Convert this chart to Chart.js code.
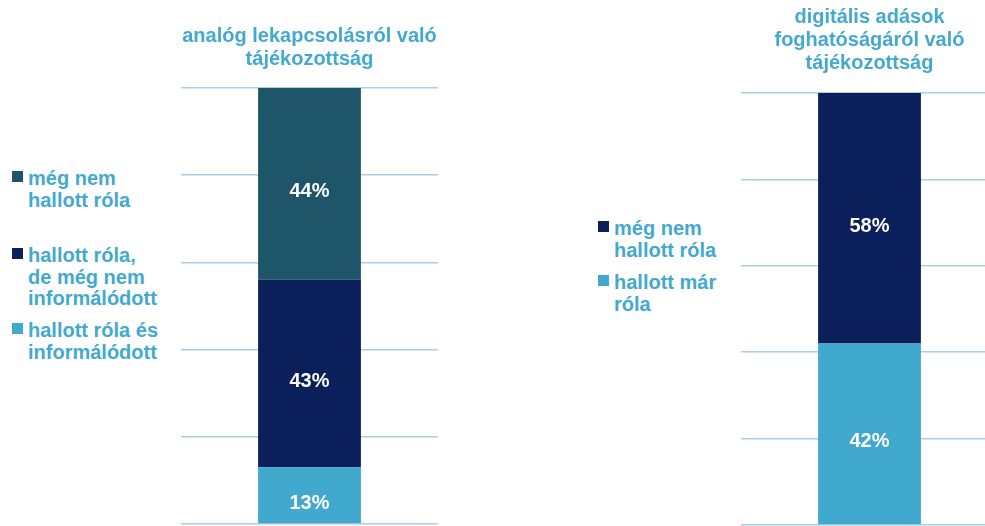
<!DOCTYPE html>
<html>
<head>
<meta charset="utf-8">
<script src="https://cdn.jsdelivr.net/npm/chart.js@4/dist/chart.umd.min.js"></script>
<style>
  html, body { margin: 0; padding: 0; background: #fff; width: 985px; height: 526px; overflow: hidden; }
  body { position: relative; font-family: "Liberation Sans", Arial, sans-serif; }
  .box { position: absolute; top: 0; height: 526px; width: 257px; }
  .leg { position: absolute; color: #44A9CF; font-weight: bold; font-size: 20px; line-height: 21.5px; white-space: nowrap; }
  .leg i { position: absolute; left: -16px; top: 3px; width: 11px; height: 11px; }
</style>
</head>
<body>
<div class="box" style="left:181px"><canvas id="grafAnalog"></canvas></div>
<div class="box" style="left:741px"><canvas id="grafDigital"></canvas></div>
<div id="legendas"></div>
<script>
// bal oldali grafikon (alulról felfelé)
var analogCim = ["analóg lekapcsolásról való", "tájékozottság"];
var analogCimkek = ["hallott róla és\ninformálódott", "hallott róla,\nde még nem\ninformálódott", "még nem\nhallott róla"];
var analogErtekek = [13, 43, 44];
var analogSzinek = ["#41A8CE", "#0B1F5A", "#1E5569"];

// jobb oldali grafikon (alulról felfelé)
var digitalCim = ["digitális adások", "foghatóságáról való", "tájékozottság"];
var digitalCimkek = ["hallott már\nróla", "még nem\nhallott róla"];
var digitalErtekek = [42, 58];
var digitalSzinek = ["#41A8CE", "#0B1F5A"];

var tengely = [0, 20, 40, 60, 80, 100];

// a legendák helye (bal, felső)
var analogLegHely = [[28, 320], [28, 245], [28, 168]];
var digitalLegHely = [[614, 272], [614, 218]];

var szazalekok = {
    id: "szazalekok",
    afterDatasetsDraw: function (chart) {
        var ctx = chart.ctx;
        ctx.save();
        ctx.fillStyle = "#fff";
        ctx.font = "bold 20px 'Liberation Sans', Arial, sans-serif";
        ctx.textAlign = "center";
        ctx.textBaseline = "middle";
        chart.data.datasets.forEach(function (ds, i) {
            chart.getDatasetMeta(i).data.forEach(function (el, j) {
                var p = el.getCenterPoint();
                ctx.fillText(ds.data[j] + "%", p.x, p.y + 8);
            });
        });
        ctx.restore();
    }
};

function pintar(id, cim, cimkek, ertekek, szinek, pad) {
    var datasets = [];
    $each(cimkek, function (c, i) {
        datasets.push({
            label: c,
            data: [ertekek[i]],
            backgroundColor: szinek[i],
            categoryPercentage: 1,
            barPercentage: 0.4
        });
    });
    return new Chart(document.getElementById(id), {
        type: "bar",
        data: { labels: [""], datasets: datasets },
        plugins: [szazalekok],
        options: {
            responsive: true,
            maintainAspectRatio: false,
            animation: false,
            layout: { padding: { left: 0, right: 0, top: 0, bottom: pad.bottom } },
            plugins: {
                legend: { display: false },
                tooltip: { enabled: false },
                title: {
                    display: true,
                    text: cim,
                    color: "#44A9CF",
                    font: { family: "'Liberation Sans', Arial, sans-serif", size: 20, weight: "bold", lineHeight: 1.15 },
                    padding: { top: pad.top, bottom: pad.titleBottom }
                }
            },
            scales: {
                x: { stacked: true, display: false },
                y: {
                    stacked: true,
                    min: tengely[0],
                    max: tengely[tengely.length - 1],
                    afterBuildTicks: function (s) { s.ticks = tengely.map(function (v) { return { value: v }; }); },
                    ticks: { display: false },
                    grid: { color: "#A8CFE3", lineWidth: 1.5, drawTicks: false },
                    border: { display: false }
                }
            }
        }
    });
}

function $each(arr, fn) { for (var i = 0; i < arr.length; i++) fn(arr[i], i); }

function legenda(cimkek, szinek, helyek) {
    var cont = document.getElementById("legendas");
    $each(cimkek, function (c, i) {
        var d = document.createElement("div");
        d.className = "leg";
        d.style.left = helyek[i][0] + "px";
        d.style.top = helyek[i][1] + "px";
        var sq = document.createElement("i");
        sq.style.background = szinek[i];
        d.appendChild(sq);
        c.split("\n").forEach(function (sor) {
            var s = document.createElement("div");
            s.textContent = sor;
            d.appendChild(s);
        });
        cont.appendChild(d);
    });
}

pintar("grafAnalog", analogCim, analogCimkek, analogErtekek, analogSzinek, { top: 25, titleBottom: 17, bottom: 2 });
pintar("grafDigital", digitalCim, digitalCimkek, digitalErtekek, digitalSzinek, { top: 6, titleBottom: 18, bottom: 1 });
legenda(analogCimkek, analogSzinek, analogLegHely);
legenda(digitalCimkek, digitalSzinek, digitalLegHely);
</script>
</body>
</html>
